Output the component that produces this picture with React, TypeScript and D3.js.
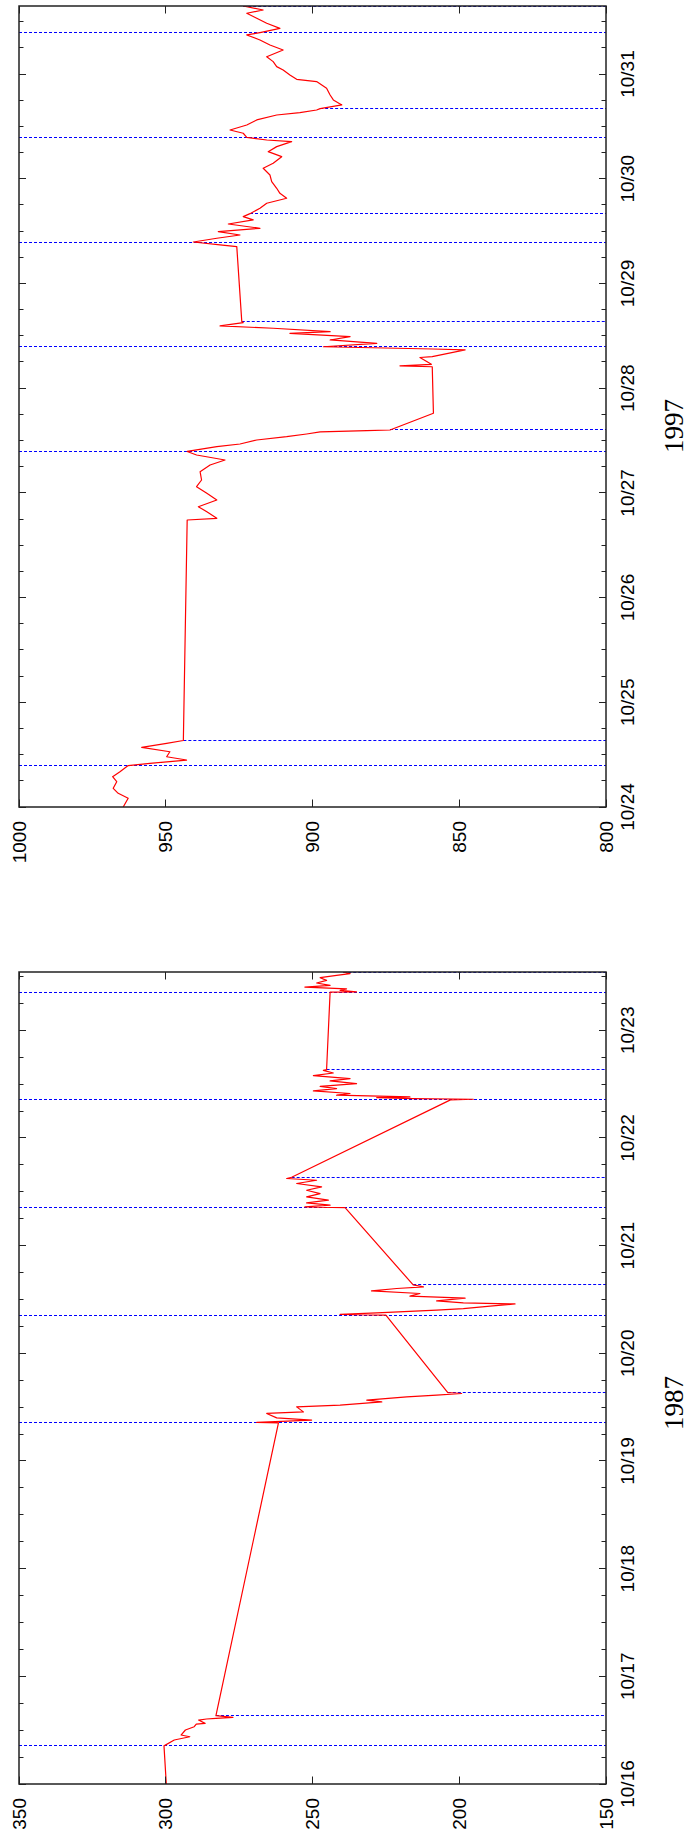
import React from "react";
import * as d3 from "d3";

// S&P futures, intraday, two crash weeks (rotated plot: time runs upward)
type Pt = [string, number];

const sp1987: Pt[] = [
  ["1987-10-15 15:15", 299.0],
  ["1987-10-16 08:30", 300.6], ["1987-10-16 09:48", 297.1], ["1987-10-16 10:32", 291.8],
  ["1987-10-16 10:55", 294.8], ["1987-10-16 12:02", 293.3], ["1987-10-16 12:46", 290.3],
  ["1987-10-16 13:22", 289.6], ["1987-10-16 13:31", 286.6], ["1987-10-16 14:15", 288.8],
  ["1987-10-16 14:29", 286.1], ["1987-10-16 14:38", 282.9], ["1987-10-16 14:52", 277.1],
  ["1987-10-16 15:15", 282.9],
  ["1987-10-19 08:30", 261.6], ["1987-10-19 08:36", 269.0], ["1987-10-19 09:07", 250.3],
  ["1987-10-19 09:37", 262.2], ["1987-10-19 10:36", 265.6], ["1987-10-19 10:57", 253.1],
  ["1987-10-19 12:04", 255.4], ["1987-10-19 12:27", 240.6], ["1987-10-19 13:11", 226.4],
  ["1987-10-19 13:34", 231.5], ["1987-10-19 14:18", 217.9], ["1987-10-19 14:40", 207.7],
  ["1987-10-19 15:03", 199.2], ["1987-10-19 15:15", 203.9],
  ["1987-10-20 08:30", 225.0], ["1987-10-20 08:40", 240.6], ["1987-10-20 09:01", 228.1],
  ["1987-10-20 09:37", 207.7], ["1987-10-20 09:59", 198.6], ["1987-10-20 10:30", 189.5],
  ["1987-10-20 11:01", 181.0], ["1987-10-20 11:15", 198.6], ["1987-10-20 11:41", 207.7],
  ["1987-10-20 12:17", 198.0], ["1987-10-20 12:44", 216.8], ["1987-10-20 13:20", 213.4],
  ["1987-10-20 13:55", 229.9], ["1987-10-20 14:27", 221.3], ["1987-10-20 14:48", 212.2],
  ["1987-10-20 15:15", 215.7],
  ["1987-10-21 08:30", 238.9], ["1987-10-21 08:38", 252.6], ["1987-10-21 09:01", 244.0],
  ["1987-10-21 09:32", 252.0], ["1987-10-21 10:08", 244.6], ["1987-10-21 10:52", 252.0],
  ["1987-10-21 11:37", 247.4], ["1987-10-21 12:21", 252.0], ["1987-10-21 13:06", 246.9],
  ["1987-10-21 13:51", 255.4], ["1987-10-21 14:35", 248.6], ["1987-10-21 14:58", 258.8],
  ["1987-10-21 15:15", 257.1],
  ["1987-10-22 08:30", 203.0], ["1987-10-22 08:38", 195.2], ["1987-10-22 08:47", 215.7],
  ["1987-10-22 09:00", 228.1], ["1987-10-22 09:09", 216.8], ["1987-10-22 09:32", 241.8],
  ["1987-10-22 09:55", 237.2], ["1987-10-22 10:29", 249.7], ["1987-10-22 11:01", 241.8],
  ["1987-10-22 11:31", 247.4], ["1987-10-22 12:07", 235.0], ["1987-10-22 12:43", 244.0],
  ["1987-10-22 13:15", 237.2], ["1987-10-22 13:55", 249.7], ["1987-10-22 14:29", 242.9],
  ["1987-10-22 15:05", 246.3], ["1987-10-22 15:15", 245.2],
  ["1987-10-23 08:30", 244.0], ["1987-10-23 08:33", 235.0], ["1987-10-23 08:55", 240.6],
  ["1987-10-23 09:13", 238.4], ["1987-10-23 09:39", 252.6], ["1987-10-23 10:02", 244.0],
  ["1987-10-23 10:33", 248.6], ["1987-10-23 11:08", 245.2], ["1987-10-23 11:44", 247.4],
  ["1987-10-23 12:15", 241.8], ["1987-10-23 12:38", 237.2], ["1987-10-23 13:00", 239.5],
];

const sp1997: Pt[] = [
  ["1997-10-24 00:00", 964.5], ["1997-10-24 02:00", 962.8], ["1997-10-24 03:08", 966.2],
  ["1997-10-24 04:17", 967.9], ["1997-10-24 05:48", 966.7], ["1997-10-24 06:57", 968.1],
  ["1997-10-24 08:05", 965.6], ["1997-10-24 09:30", 962.8], ["1997-10-24 10:01", 955.4],
  ["1997-10-24 10:46", 942.9], ["1997-10-24 11:31", 949.7], ["1997-10-24 12:40", 948.6],
  ["1997-10-24 13:40", 958.2], ["1997-10-24 14:35", 949.7], ["1997-10-24 15:15", 944.0],
  ["1997-10-26 17:47", 942.7], ["1997-10-26 18:10", 932.6], ["1997-10-26 19:41", 936.0],
  ["1997-10-26 20:50", 938.9], ["1997-10-26 22:22", 932.6], ["1997-10-26 23:54", 936.0],
  ["1997-10-27 01:25", 939.5], ["1997-10-27 02:57", 937.8], ["1997-10-27 04:52", 938.3],
  ["1997-10-27 06:23", 934.9], ["1997-10-27 07:32", 929.8], ["1997-10-27 08:41", 939.5],
  ["1997-10-27 09:30", 942.7], ["1997-10-27 10:35", 932.6], ["1997-10-27 11:12", 924.7],
  ["1997-10-27 12:07", 919.0], ["1997-10-27 12:53", 908.8], ["1997-10-27 13:30", 902.0],
  ["1997-10-27 13:58", 897.4], ["1997-10-27 14:15", 881.5], ["1997-10-27 14:25", 873.6],
  ["1997-10-27 18:15", 858.8],
  ["1997-10-28 04:55", 859.2], ["1997-10-28 05:08", 870.2], ["1997-10-28 05:28", 859.5],
  ["1997-10-28 07:02", 863.4], ["1997-10-28 07:13", 859.2], ["1997-10-28 08:46", 848.0],
  ["1997-10-28 08:59", 858.9], ["1997-10-28 09:30", 896.3], ["1997-10-28 10:17", 878.1],
  ["1997-10-28 11:03", 894.0], ["1997-10-28 11:48", 887.2], ["1997-10-28 12:35", 907.7],
  ["1997-10-28 12:58", 894.0], ["1997-10-28 13:44", 913.4], ["1997-10-28 14:16", 931.5],
  ["1997-10-28 15:01", 923.6], ["1997-10-28 15:20", 924.1],
  ["1997-10-29 08:27", 925.8], ["1997-10-29 08:50", 931.5], ["1997-10-29 09:30", 940.6],
  ["1997-10-29 10:22", 932.6], ["1997-10-29 11:07", 924.7], ["1997-10-29 11:53", 932.1],
  ["1997-10-29 12:39", 917.9], ["1997-10-29 13:38", 928.7], ["1997-10-29 14:34", 920.2],
  ["1997-10-29 15:19", 923.6], ["1997-10-29 16:00", 921.3], ["1997-10-29 17:14", 917.9],
  ["1997-10-29 18:23", 915.6], ["1997-10-29 19:32", 908.8], ["1997-10-29 20:40", 911.1],
  ["1997-10-29 21:49", 912.2], ["1997-10-29 23:21", 913.9],
  ["1997-10-30 00:52", 914.5], ["1997-10-30 02:24", 916.8], ["1997-10-30 03:33", 913.4],
  ["1997-10-30 05:04", 910.5], ["1997-10-30 06:13", 915.1], ["1997-10-30 07:22", 912.2],
  ["1997-10-30 08:30", 907.1], ["1997-10-30 08:53", 915.6], ["1997-10-30 09:30", 922.4],
  ["1997-10-30 10:26", 923.6], ["1997-10-30 11:11", 928.1], ["1997-10-30 12:20", 922.4],
  ["1997-10-30 13:29", 919.0], ["1997-10-30 14:37", 912.2], ["1997-10-30 15:09", 904.3],
  ["1997-10-30 15:46", 898.6], ["1997-10-30 16:05", 897.4], ["1997-10-30 16:55", 890.0],
  ["1997-10-30 18:04", 892.9], ["1997-10-30 19:12", 894.0], ["1997-10-30 20:44", 895.2],
  ["1997-10-30 22:16", 898.6], ["1997-10-30 22:48", 905.4], ["1997-10-30 23:47", 907.7],
  ["1997-10-31 00:56", 910.0], ["1997-10-31 01:42", 912.2], ["1997-10-31 02:51", 913.4],
  ["1997-10-31 03:59", 915.6], ["1997-10-31 05:31", 910.0], ["1997-10-31 06:40", 914.5],
  ["1997-10-31 07:49", 917.9], ["1997-10-31 08:58", 922.4], ["1997-10-31 09:30", 917.9],
  ["1997-10-31 10:29", 911.1], ["1997-10-31 11:38", 915.6], ["1997-10-31 12:47", 919.0],
  ["1997-10-31 13:56", 922.4], ["1997-10-31 14:41", 916.8], ["1997-10-31 15:36", 923.6],
];

// session opens (full dashed lines) and closes (dashed from the price down)
const opens1987 = ["1987-10-16 08:30", "1987-10-19 08:30", "1987-10-20 08:30", "1987-10-21 08:30", "1987-10-22 08:30", "1987-10-23 08:30"];
const closes1987 = ["1987-10-16 15:15", "1987-10-19 15:15", "1987-10-20 15:15", "1987-10-21 15:15", "1987-10-22 15:15", "1987-10-23 13:00"];
const opens1997 = ["1997-10-24 09:30", "1997-10-27 09:30", "1997-10-28 09:30", "1997-10-29 09:30", "1997-10-30 09:30", "1997-10-31 09:30"];
const closes1997 = ["1997-10-24 15:15", "1997-10-27 14:25", "1997-10-28 15:20", "1997-10-29 16:00", "1997-10-30 16:05", "1997-10-31 15:36"];

const ticks1987 = [350, 300, 250, 200, 150];
const ticks1997 = [1000, 950, 900, 850, 800];
const days1987 = ["10/16", "10/17", "10/18", "10/19", "10/20", "10/21", "10/22", "10/23"];
const days1997 = ["10/24", "10/25", "10/26", "10/27", "10/28", "10/29", "10/30", "10/31"];

const parse = d3.timeParse("%Y-%m-%d %H:%M");
const parseDay = d3.timeParse("%Y/%m/%d");

const LEFT = 19;
const RIGHT = 606;
const SANS = "'Liberation Sans', Arial, Helvetica, sans-serif";

// put a 1px horizontal line on a pixel row so it isn't smeared
const crisp = (v: number) => Math.round(v - 0.5) + 0.5;

interface PanelProps {
  id: string;
  year: string;
  series: Pt[];
  opens: string[];
  closes: string[];
  start: string;
  end: string;
  ticks: number[];
  days: string[];
  top: number;
  bottom: number;
  yearY: number;
}

function Panel(p: PanelProps) {
  const y = d3.scaleTime().domain([parse(p.start)!, parse(p.end)!]).range([p.bottom, p.top]);
  const x = d3
    .scaleLinear()
    .domain([d3.max(p.ticks)!, d3.min(p.ticks)!])
    .range([LEFT, RIGHT]);
  const pts = p.series.map(([t, v]) => ({ t: parse(t)!, v }));
  const line = d3
    .line<{ t: Date; v: number }>()
    .x((d) => x(d.v))
    .y((d) => y(d.t));

  const bis = d3.bisector((d: { t: Date; v: number }) => d.t).left;
  const valueAt = (t: Date) => {
    const i = bis(pts, t);
    if (i >= pts.length) return pts[pts.length - 1].v;
    if (+pts[i].t === +t || i === 0) return pts[i].v;
    const a = pts[i - 1], b = pts[i];
    const f = (+t - +a.t) / (+b.t - +a.t);
    return a.v + f * (b.v - a.v);
  };

  const dayDates = p.days.map((d) => parseDay(p.year + "/" + d)!);
  const minor = d3.timeHour.every(6)!.range(parse(p.start)!, parse(p.end)!);

  return (
    <g>
      <defs>
        <clipPath id={p.id}>
          <rect x={LEFT} y={p.top} width={RIGHT - LEFT} height={p.bottom - p.top} />
        </clipPath>
      </defs>

      {p.opens.map((t) => {
        const yy = crisp(y(parse(t)!));
        return (
          <line key={"o" + t} x1={LEFT} x2={RIGHT} y1={yy} y2={yy}
            stroke="#0000ff" strokeWidth={1} strokeDasharray="3,2" />
        );
      })}
      {p.closes.map((t) => {
        const d = parse(t)!;
        const yy = Math.min(crisp(y(d)), p.bottom);
        return (
          <line key={"c" + t} x1={x(valueAt(d))} x2={RIGHT} y1={Math.max(yy, p.top + 0.5)} y2={Math.max(yy, p.top + 0.5)}
            stroke="#0000ff" strokeWidth={1} strokeDasharray="3,2" />
        );
      })}

      <path d={line(pts)!} fill="none" stroke="#ff0000" strokeWidth={1.2}
        strokeLinejoin="round" clipPath={`url(#${p.id})`} />

      {/* time ticks, both sides */}
      {minor.map((d, i) => {
        const major = d.getHours() === 0;
        const len = major ? 7 : 4.5;
        const yy = crisp(y(d));
        return (
          <g key={"m" + i} stroke="#222" strokeWidth={1}>
            <line x1={LEFT} x2={LEFT + len} y1={yy} y2={yy} />
            <line x1={RIGHT} x2={RIGHT - len} y1={yy} y2={yy} />
          </g>
        );
      })}
      {/* value ticks, top and bottom */}
      {p.ticks.map((v) => (
        <g key={"v" + v} stroke="#222" strokeWidth={1}>
          <line x1={crisp(x(v))} x2={crisp(x(v))} y1={p.bottom} y2={p.bottom - 7.5} />
          <line x1={crisp(x(v))} x2={crisp(x(v))} y1={p.top} y2={p.top + 7.5} />
        </g>
      ))}

      <rect x={LEFT} y={p.top} width={RIGHT - LEFT} height={p.bottom - p.top}
        fill="none" stroke="#222" strokeWidth={1.5} />

      {p.ticks.map((v) => (
        <text key={"vl" + v} transform={`translate(${x(v)},${p.bottom + 14}) rotate(-90)`}
          textAnchor="end" dy="0.35em" fontFamily={SANS} fontSize={19} fill="#000">
          {v}
        </text>
      ))}
      {dayDates.map((d, i) => (
        <text key={"dl" + i} transform={`translate(634,${y(d)}) rotate(-90)`}
          textAnchor="middle" fontFamily={SANS} fontSize={19} fill="#000">
          {p.days[i]}
        </text>
      ))}

      <text transform={`translate(683,${p.yearY}) rotate(-90)`} textAnchor="middle"
        fontFamily="'Liberation Serif', 'Times New Roman', serif" fontSize={27} fill="#000">
        {p.year}
      </text>
    </g>
  );
}

export default function App() {
  return (
    <svg width={690} height={1838} viewBox="0 0 690 1838"
      style={{ position: "absolute", left: 0, top: 0, background: "#fff" }}>
      <rect width={690} height={1838} fill="#fff" />
      <Panel id="clip97" year="1997" series={sp1997} opens={opens1997} closes={closes1997}
        start="1997-10-24 00:00" end="1997-10-31 15:36" ticks={ticks1997} days={days1997}
        top={6} bottom={807} yearY={426} />
      <Panel id="clip87" year="1987" series={sp1987} opens={opens1987} closes={closes1987}
        start="1987-10-16 00:00" end="1987-10-23 13:00" ticks={ticks1987} days={days1987}
        top={972} bottom={1784} yearY={1403} />
    </svg>
  );
}
